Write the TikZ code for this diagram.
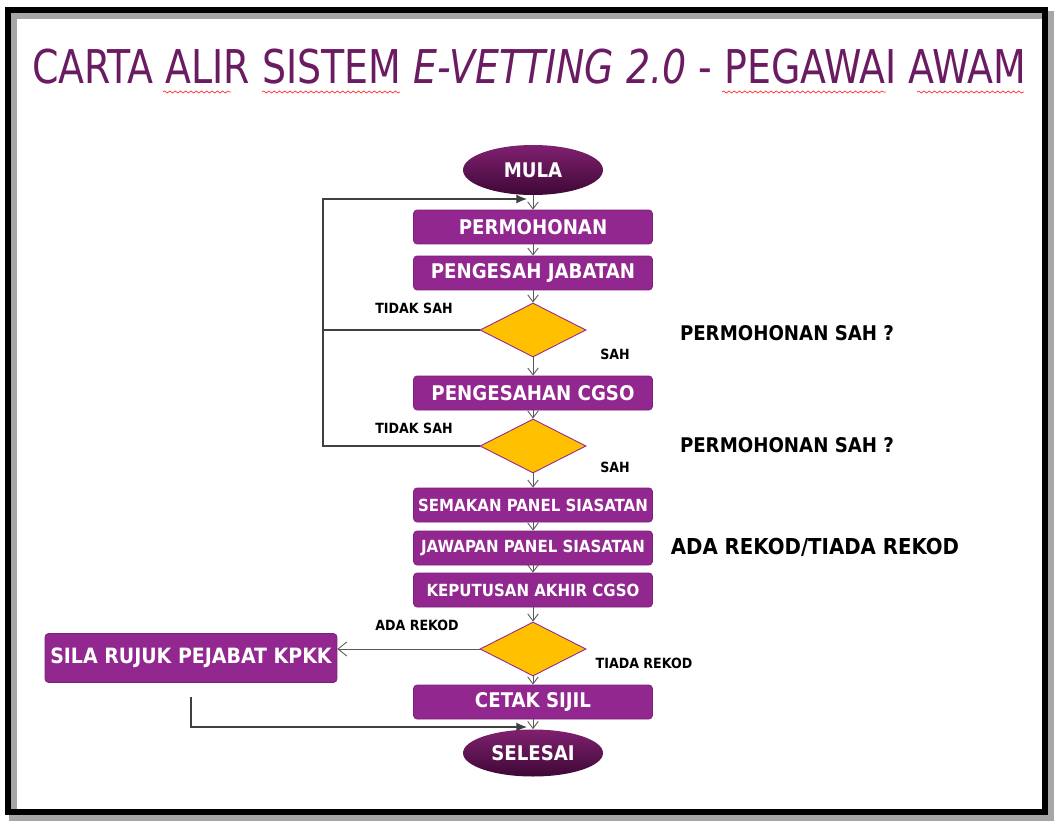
\documentclass[tikz,border=0pt]{standalone}
\usepackage{fontspec}
\setmainfont{DejaVu Sans Condensed}
\usetikzlibrary{arrows.meta,positioning,shapes.geometric,decorations.pathmorphing}
\definecolor{boxcol}{RGB}{146,39,143}
\definecolor{decol}{RGB}{255,192,0}
\definecolor{titlecol}{RGB}{106,27,98}
\definecolor{ovaltop}{RGB}{128,32,112}
\definecolor{ovalbot}{RGB}{62,8,54}

\tikzset{
  proc/.style={draw=boxcol!85!black, line width=0.4pt, fill=boxcol, rounded corners=2pt,
    text=white, font=\bfseries\fontsize{11.5}{13}\selectfont,
    minimum width=4.78cm, minimum height=0.68cm, inner sep=0pt},
  oval/.style={ellipse, top color=ovaltop, bottom color=ovalbot, text=white,
    font=\bfseries\fontsize{11.5}{13}\selectfont,
    minimum width=2.8cm, minimum height=1.0cm, inner sep=0pt},
  decision/.style={diamond, draw=boxcol, line width=0.5pt, fill=decol,
    minimum width=2.12cm, minimum height=1.08cm, inner sep=0pt},
  link/.style={draw=black!65, line width=0.5pt, -{Straight Barb[length=4pt,width=6pt]}},
  back/.style={draw=black!75, line width=0.6pt, -{Latex[length=6pt,width=5pt]}},
  lbl/.style={font=\bfseries\fontsize{8}{10}\selectfont},
  note/.style={font=\bfseries\fontsize{11.5}{13}\selectfont},
  squiggle/.style={draw=red!80, line width=0.4pt,
    decorate, decoration={snake, amplitude=0.6pt, segment length=3pt}},
}

\begin{document}
\begin{tikzpicture}[x=0.02cm, y=-0.02cm]
\useasboundingbox (0,0) rectangle (1057,824);
% frame
\fill[white] (0,0) rectangle (1057,824);
\draw[black!35, line width=4pt] (13,15) rectangle (1050,817);
\draw[black, line width=3.4pt] (8,10) rectangle (1045,812);

% title
\node[text=titlecol, font=\fontsize{26.5}{30}\selectfont, inner sep=0pt] (title) at (529,67)
  {\scalebox{0.905}[1]{CARTA ALIR SISTEM \textit{E-VETTING 2.0} - PEGAWAI AWAM}};
\foreach \a/\b in {163/231, 262/400, 722/886, 917/1024}
  \draw[squiggle] (\a,92) -- (\b,92);

% main column
\node[oval] (mula) at (533,170) {MULA};
\node[proc] (perm) at (533,227) {PERMOHONAN};
\node[proc] (pengesah) at (533,273) {PENGESAH JABATAN};
\node[decision] (d1) at (533,330) {};
\node[proc] (cgso) at (533,393) {PENGESAHAN CGSO};
\node[decision] (d2) at (533,446) {};
\node[proc, font=\bfseries\fontsize{9.5}{11}\selectfont] (semakan) at (533,505) {SEMAKAN PANEL SIASATAN};
\node[proc, font=\bfseries\fontsize{9.5}{11}\selectfont] (jawapan) at (533,548) {JAWAPAN PANEL SIASATAN};
\node[proc, font=\bfseries\fontsize{9.5}{11}\selectfont] (keputusan) at (533,590) {KEPUTUSAN AKHIR CGSO};
\node[decision] (rekod) at (533,649) {};
\node[proc, minimum width=5.84cm, minimum height=0.98cm, font=\bfseries\fontsize{12}{14}\selectfont] (sila) at (191,658) {SILA RUJUK PEJABAT KPKK};
\node[proc] (cetak) at (533,702) {CETAK SIJIL};
\node[oval, minimum height=0.94cm] (selesai) at (533,753) {SELESAI};

% labels
\node[lbl] (tidak1) at (414,308) {TIDAK SAH};
\node[lbl] (sah1) at (615,354) {SAH};
\node[note] (soal1) at (787,333) {PERMOHONAN SAH ?};
\node[lbl] (tidak2) at (414,428) {TIDAK SAH};
\node[lbl] (sah2) at (615,467) {SAH};
\node[note] (soal2) at (787,445) {PERMOHONAN SAH ?};
\node[note, font=\bfseries\fontsize{12.5}{14}\selectfont] (soal3) at (815,547) {ADA REKOD/TIADA REKOD};
\node[lbl] (ada) at (417,625) {ADA REKOD};
\node[lbl] (tiada) at (644,663) {TIADA REKOD};

% connectors
\draw[link] (mula) -- (perm);
\draw[link] (perm) -- (pengesah);
\draw[link] (pengesah) -- (d1);
\draw[link] (d1) -- (cgso);
\draw[link] (cgso) -- (d2);
\draw[link] (d2) -- (semakan);
\draw[link] (semakan) -- (jawapan);
\draw[link] (jawapan) -- (keputusan);
\draw[link] (keputusan) -- (rekod);
\draw[link] (rekod) -- (cetak);
\draw[link] (cetak) -- (selesai);
\draw[link, -{Straight Barb[length=5pt,width=8pt]}] (rekod.west) -- (rekod.west -| sila.east);

% loops back
\coordinate (turn) at (323,199);
\coordinate (entry) at (527,199);
\draw[back] (d1.west) -| (turn) -- (entry);
\draw[draw=black!75, line width=0.6pt] (d2.west) -| (turn);
\coordinate[below=0.28cm of sila] (drop);
\coordinate (arrive) at (527,727);
\draw[back] (drop) |- (arrive);
\end{tikzpicture}
\end{document}
